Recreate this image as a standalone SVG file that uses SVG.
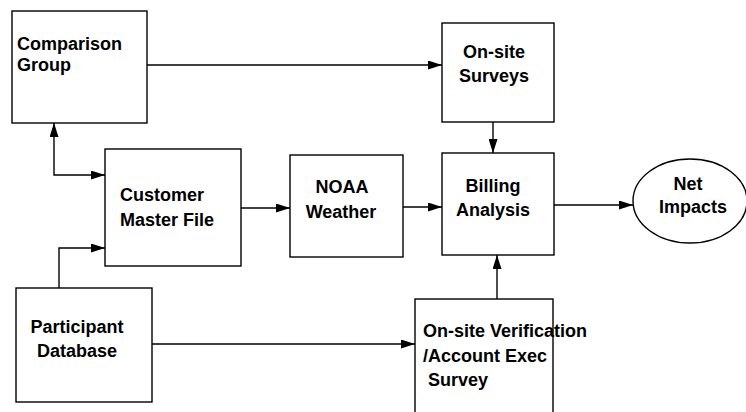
<svg xmlns="http://www.w3.org/2000/svg" width="746" height="412" viewBox="0 0 746 412">
<defs>
<style>
.box{fill:#fff;stroke:#000;stroke-width:1.4}
.t{font-family:"Liberation Sans",Arial,sans-serif;font-weight:bold;font-size:18px;fill:#000}
.c{text-anchor:middle}
.ln{fill:none;stroke:#000;stroke-width:1.4}
</style>
<marker id="ah" viewBox="0 0 14 9" refX="14" refY="4.5" markerWidth="14" markerHeight="9" markerUnits="userSpaceOnUse" orient="auto-start-reverse">
<path d="M0,0 L14,4.5 L0,9 Z" fill="#000"/>
</marker>
</defs>
<rect width="746" height="412" fill="#fff"/>
<g id="connectors">
<path class="ln" d="M147,65 H442" marker-end="url(#ah)"/>
<path class="ln" d="M493,122 V153" marker-end="url(#ah)"/>
<path class="ln" d="M54,123 V175 H105" marker-start="url(#ah)" marker-end="url(#ah)"/>
<path class="ln" d="M59,288 V248 H105" marker-end="url(#ah)"/>
<path class="ln" d="M241,208 H290" marker-end="url(#ah)"/>
<path class="ln" d="M403,207 H442" marker-end="url(#ah)"/>
<path class="ln" d="M554,205 H633" marker-end="url(#ah)"/>
<path class="ln" d="M152,344 H415" marker-end="url(#ah)"/>
<path class="ln" d="M497,299 V255" marker-end="url(#ah)"/>
</g>
<g id="comparison-group">
<rect class="box" x="12" y="11" width="135" height="112"/>
<text class="t" x="17" y="50">Comparison</text>
<text class="t" x="17" y="71">Group</text>
</g>
<g id="onsite-surveys">
<rect class="box" x="442" y="23" width="112" height="99"/>
<text class="t c" x="494" y="58">On-site</text>
<text class="t c" x="494" y="82">Surveys</text>
</g>
<g id="customer-master-file">
<rect class="box" x="105" y="149" width="136" height="117"/>
<text class="t" x="120" y="201">Customer</text>
<text class="t" x="120" y="226">Master File</text>
</g>
<g id="noaa-weather">
<rect class="box" x="290" y="155" width="113" height="102"/>
<text class="t c" x="342" y="193">NOAA</text>
<text class="t c" x="341" y="218">Weather</text>
</g>
<g id="billing-analysis">
<rect class="box" x="442" y="153" width="112" height="102"/>
<text class="t c" x="493" y="192">Billing</text>
<text class="t c" x="493" y="216">Analysis</text>
</g>
<g id="net-impacts">
<ellipse class="box" cx="690" cy="201" rx="57" ry="42"/>
<text class="t c" x="688" y="190">Net</text>
<text class="t c" x="693" y="213">Impacts</text>
</g>
<g id="participant-database">
<rect class="box" x="16" y="288" width="136" height="114"/>
<text class="t c" x="77" y="333">Participant</text>
<text class="t c" x="77" y="357">Database</text>
</g>
<g id="onsite-verification">
<rect class="box" x="415" y="299" width="138" height="130"/>
<text class="t" x="423" y="337">On-site Verification</text>
<text class="t" x="423" y="362">/Account Exec</text>
<text class="t" x="428" y="386">Survey</text>
</g>
</svg>
